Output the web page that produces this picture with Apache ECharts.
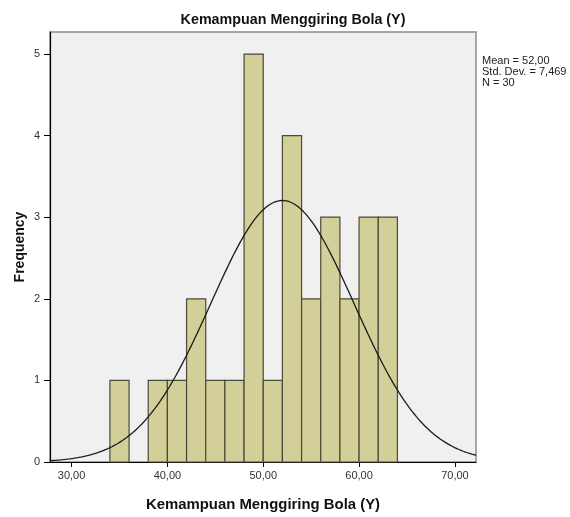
<!DOCTYPE html>
<html><head><meta charset="utf-8">
<script src="https://cdn.jsdelivr.net/npm/echarts@6/dist/echarts.min.js"></script>
<style>html,body{margin:0;padding:0;background:#fff}#c{width:570px;height:517px}</style>
</head><body><div id="c"></div>
<script>
const title = 'Kemampuan Menggiring Bola (Y)';
const binStarts = [34, 38, 40, 42, 44, 46, 48, 50, 52, 54, 56, 58, 60, 62];
const binWidth = 2;
const counts = [1, 1, 1, 2, 1, 1, 5, 1, 4, 2, 3, 2, 3, 3];
const xTicks = [30, 40, 50, 60, 70];
const yTicks = [0, 1, 2, 3, 4, 5];
const MEAN = 52.00, SD = 7.469, N = 30;
const statLines = ['Mean = 52,00', 'Std. Dev. = 7,469', 'N = 30'];

const X_MIN = 27.75, X_MAX = 72.2;
const curve = [];
for (let i = 0; i <= 200; i++) {
  const x = X_MIN + (X_MAX - X_MIN) * i / 200;
  const y = N * binWidth * Math.exp(-0.5 * Math.pow((x - MEAN) / SD, 2)) / (SD * Math.sqrt(2 * Math.PI));
  curve.push([x, y]);
}
const barData = binStarts.map((s, i) => [s, s + binWidth, counts[i]]);

const FONT = 'Liberation Sans, Arial, sans-serif';
const chart = echarts.init(document.getElementById('c'), null, {renderer: 'canvas'});
chart.setOption({
  animation: false,
  backgroundColor: '#ffffff',
  textStyle: {fontFamily: FONT},
  title: {
    text: title, left: 288, top: 8, textAlign: 'center',
    textStyle: {fontSize: 14.3, fontWeight: 'bold', color: '#111', fontFamily: FONT}
  },
  grid: {left: 50, right: 94, top: 32, bottom: 54, show: true, backgroundColor: '#F0F0F0', borderColor: '#8c8c8c', borderWidth: 1.5},
  xAxis: {
    type: 'value', min: X_MIN, max: X_MAX,
    name: title, nameLocation: 'middle', nameGap: 35, nameMoveOverlap: false,
    nameTextStyle: {fontSize: 14.9, fontWeight: 'bold', color: '#111', fontFamily: FONT},
    axisLine: {show: true, onZero: false, lineStyle: {color: '#000', width: 1.2}},
    axisTick: {show: true, length: 5, customValues: xTicks, lineStyle: {color: '#000'}},
    axisLabel: {customValues: xTicks, fontSize: 11, color: '#333', margin: 8,
      formatter: v => v.toFixed(2).replace('.', ',')},
    splitLine: {show: false}
  },
  yAxis: {
    type: 'value', min: 0, max: 5.27,
    name: 'Frequency', nameLocation: 'middle', nameGap: 23, nameRotate: 90, nameMoveOverlap: false,
    nameTextStyle: {fontSize: 14, fontWeight: 'bold', color: '#111', fontFamily: FONT},
    axisLine: {show: true, lineStyle: {color: '#000', width: 1.2}},
    axisTick: {show: true, length: 6, customValues: yTicks, lineStyle: {color: '#000', width: 1}},
    axisLabel: {customValues: yTicks, fontSize: 11, color: '#333', margin: 10},
    splitLine: {show: false}
  },
  series: [
    {
      type: 'custom',
      data: barData,
      encode: {x: [0, 1], y: 2},
      renderItem: function (params, api) {
        const p0 = api.coord([api.value(0), 0]);
        const p1 = api.coord([api.value(1), api.value(2)]);
        return {
          type: 'rect',
          shape: {x: p0[0], y: p1[1], width: p1[0] - p0[0], height: p0[1] - p1[1]},
          style: {fill: '#D3CF98', stroke: '#4a4a3a', lineWidth: 1.2}
        };
      },
      z: 2
    },
    {
      type: 'line', data: curve, showSymbol: false, symbol: 'none', smooth: false,
      lineStyle: {color: '#1a1a1a', width: 1.3}, z: 3
    }
  ],
  graphic: statLines.map((t, i) => ({
    type: 'text', left: 482, top: 55 + i * 11,
    style: {text: t, font: '11px ' + FONT, fill: '#222'}
  }))
});
</script>
</body></html>
